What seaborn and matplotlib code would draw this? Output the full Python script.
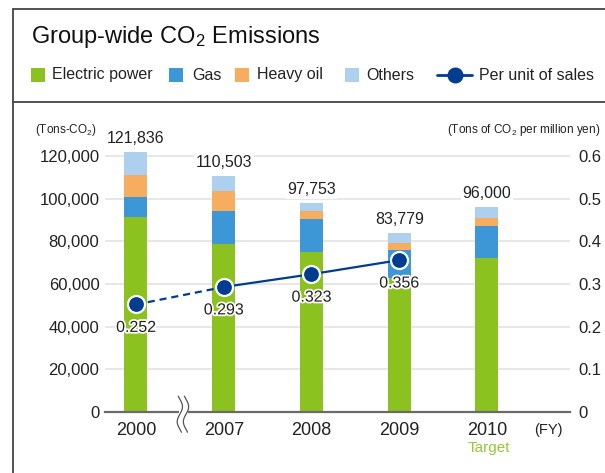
import matplotlib
matplotlib.use("Agg")
import numpy as np
import matplotlib.pyplot as plt
import matplotlib.patheffects as pe
from matplotlib.patches import Rectangle
from matplotlib.lines import Line2D
import seaborn as sns

# data
years = ["2000", "2007", "2008", "2009", "2010"]
electric = [91400, 78900, 75200, 63000, 72300]
gas = [9400, 15300, 15300, 12900, 15000]
heavy_oil = [10300, 9400, 3700, 3300, 3800]
totals = [121836, 110503, 97753, 83779, 96000]
per_unit = [0.252, 0.293, 0.323, 0.356]

GREEN = "#8cc21f"
BLUE = "#3d97d6"
ORANGE = "#f6ad5f"
LIGHT = "#aed0ef"
NAVY = "#003c8f"
TXT = "#222222"

sns.set_theme(style="white")
plt.rcParams["font.family"] = ["Liberation Sans", "DejaVu Sans"]
plt.rcParams["mathtext.default"] = "regular"

W, H = 605, 473
fig = plt.figure(figsize=(6.05, 4.73), dpi=100)
ax = fig.add_axes([105 / W, 61 / H, 465 / W, 277.3 / H])

# stacked bars: draw cumulative heights, tallest first
cum_gas = [e + g for e, g in zip(electric, gas)]
cum_oil = [c + o for c, o in zip(cum_gas, heavy_oil)]
layers = [(totals, LIGHT), (cum_oil, ORANGE), (cum_gas, BLUE), (electric, GREEN)]
for vals, col in layers:
    sns.barplot(x=years, y=vals, order=years, color=col, saturation=1,
                width=0.262, linewidth=0, edgecolor="none", ax=ax, zorder=2)

ax.set_xlim(-0.353, 4.946)
ax.set_ylim(0, 130000)
ax.set_yticks(np.arange(0, 120001, 20000))
ax.set_yticklabels([f"{v:,}" for v in range(0, 120001, 20000)])
ax.yaxis.grid(True, color="#e3e3e3", lw=1.2)
ax.set_axisbelow(True)
for s in ["top", "left", "right"]:
    ax.spines[s].set_visible(False)
ax.spines["bottom"].set_color("#6a6a6a")
ax.spines["bottom"].set_linewidth(1.6)
ax.tick_params(axis="both", length=0, colors=TXT)
ax.tick_params(axis="y", labelsize=12, pad=4)
ax.tick_params(axis="x", labelsize=13, pad=7)
ax.set_xlabel("")
ax.set_ylabel("")

for i, t in enumerate(totals):
    ax.annotate(f"{t:,}", (i, t), xytext=(0, 10), textcoords="offset points",
                ha="center", va="center", fontsize=11.5, color=TXT,
                bbox=dict(boxstyle="square,pad=0.1", fc="white", ec="none"),
                zorder=5)

# axis break mark between 2000 and 2007
tt = np.linspace(-1, 1, 60)
trans = ax.get_xaxis_transform()
ax.add_patch(Rectangle((0.49, -0.02), 0.1, 0.04, transform=trans, fc="white",
                       ec="none", clip_on=False, zorder=6))
for dx in (0.0, 0.07):
    ax.plot(0.5 + dx + 0.03 * np.sin(np.pi * tt * 1.2), tt * 0.065 - 0.008,
            transform=trans, color="#555555", lw=0.9, clip_on=False, zorder=7)

# per-unit line on the right axis
ax2 = ax.twinx()
ax2.set_ylim(0, 0.65)
ax2.set_yticks([0, 0.1, 0.2, 0.3, 0.4, 0.5, 0.6])
ax2.set_yticklabels(["0", "0.1", "0.2", "0.3", "0.4", "0.5", "0.6"])
ax2.tick_params(axis="y", length=0, labelsize=12, pad=6, colors=TXT)
for s in ax2.spines.values():
    s.set_visible(False)
ax2.grid(False)

xs = list(range(len(per_unit)))
sns.lineplot(x=xs[:2], y=per_unit[:2], color=NAVY, lw=1.6, ax=ax2,
             linestyle=(0, (3.2, 2.2)))
sns.lineplot(x=xs[1:], y=per_unit[1:], color=NAVY, lw=1.6, ax=ax2)
sns.scatterplot(x=xs, y=per_unit, color=NAVY, s=150, edgecolor="white",
                linewidth=1.6, ax=ax2, zorder=5)
for i, v in enumerate(per_unit):
    ax2.annotate(f"{v:.3f}", (i, v), xytext=(0, -16.5), textcoords="offset points",
                 ha="center", va="center", fontsize=11.5, color=TXT,
                 path_effects=[pe.withStroke(linewidth=2.5, foreground="white")])
ax2.set_ylabel("")

# axis captions
fig.text(97 / W, 1 - 130 / H, "(Tons-CO$_2$)", ha="right", va="center",
         fontsize=8.5, color=TXT)
fig.text(600 / W, 1 - 130 / H, "(Tons of CO$_2$ per million yen)", ha="right",
         va="center", fontsize=8.5, color=TXT)
fig.text(548 / W, 1 - 430 / H, "(FY)", ha="center", va="center", fontsize=10.5,
         color=TXT)
fig.text(489 / W, 1 - 448 / H, "Target", ha="center", va="center", fontsize=11,
         color="#96c93a")

# title and frame
fig.text(31 / W, 1 - 37 / H, "Group-wide CO$_2$ Emissions", ha="left",
         va="center", fontsize=17, color="#111111")
frame = dict(transform=fig.transFigure, color="#444444", lw=1.3)
fig.add_artist(Line2D([13 / W, 1], [1 - 9 / H] * 2, **frame))
fig.add_artist(Line2D([13 / W] * 2, [0, 1 - 9 / H], **frame))
fig.add_artist(Line2D([13 / W, 1], [1 - 102 / H] * 2, **frame))

# legend
ly = 1 - 75 / H
legend_items = [(31, 52, GREEN, "Electric power"), (169, 192, BLUE, "Gas"),
                (235, 257, ORANGE, "Heavy oil"), (345, 366, LIGHT, "Others")]
for x0, tx, col, lab in legend_items:
    fig.add_artist(Rectangle((x0 / W, ly - 7 / H), 14 / W, 14 / H,
                             transform=fig.transFigure, fc=col, ec="none"))
    fig.text(tx / W, ly, lab, ha="left", va="center", fontsize=11.5, color=TXT)
fig.add_artist(Line2D([437 / W, 472 / W], [ly, ly], transform=fig.transFigure,
                      color=NAVY, lw=2))
fig.add_artist(Line2D([455 / W], [ly], transform=fig.transFigure, marker="o",
                      markersize=10.5, color=NAVY, markeredgecolor=NAVY))
fig.text(479 / W, ly, "Per unit of sales", ha="left", va="center",
         fontsize=11.5, color=TXT)

fig.savefig("out.png", dpi=100)
